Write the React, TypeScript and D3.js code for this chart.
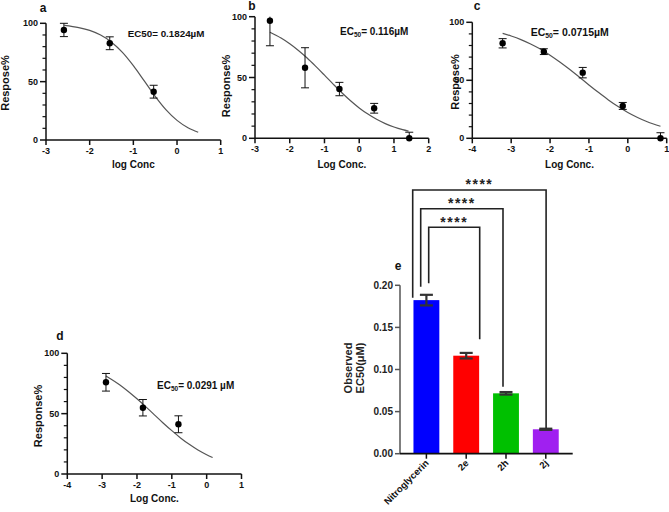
import React from 'react';
import * as d3 from 'd3';

// ---------- Panel a ----------
const aLogConc = [-2.59, -1.54, -0.535];
const aResponse = [94.3, 82.9, 41.4];
const aSem = [5.7, 5.5, 5.5];
const aFitX = [-2.58, -2.25, -2.0, -1.75, -1.5, -1.25, -1.0, -0.75, -0.5, -0.25, 0, 0.25, 0.485];
const aFitY = [98.2, 96.3, 93.9, 89.9, 83.8, 75.1, 63.7, 50.6, 37.4, 25.8, 16.8, 10.5, 6.6];
const aXTicks = [-3, -2, -1, 0, 1];

// ---------- Panel b ----------
const bLogConc = [-2.57, -1.56, -0.57, 0.43, 1.44];
const bResponse = [96.7, 58, 40.5, 24.7, 0];
const bSem = [20.6, 16.5, 5.5, 4, 5];
const bFitX = [-2.57, -2.25, -2.0, -1.75, -1.5, -1.25, -1.0, -0.75, -0.5, -0.25, 0, 0.25, 0.5, 0.75, 1.0, 1.25, 1.42];
const bFitY = [87.2, 82.4, 77.7, 72.2, 66.0, 59.1, 51.9, 44.6, 37.5, 30.9, 25.0, 19.9, 15.6, 12.1, 9.3, 7.1, 5.9];
const bXTicks = [-3, -2, -1, 0, 1, 2];

// ---------- Panel c ----------
const cLogConc = [-3.22, -2.16, -1.16, -0.13, 0.84];
const cResponse = [81.9, 74.7, 56.6, 27.9, 0];
const cSem = [4, 2.5, 4.5, 3, 4.8];
const cFitX = [-3.22, -3.0, -2.75, -2.5, -2.25, -2.0, -1.75, -1.5, -1.25, -1.0, -0.75, -0.5, -0.25, 0, 0.25, 0.5, 0.84];
const cFitY = [90.5, 88.2, 85.1, 81.3, 76.9, 71.7, 65.8, 59.5, 52.8, 46.0, 39.4, 33.1, 27.4, 22.3, 18.0, 14.3, 10.4];
const cXTicks = [-4, -3, -2, -1, 0, 1];

// ---------- Panel d ----------
const dLogConc = [-2.89, -1.83, -0.81];
const dResponse = [76, 54.9, 41.2];
const dSem = [7.3, 6.8, 7];
const dFitX = [-2.89, -2.75, -2.5, -2.25, -2.0, -1.75, -1.5, -1.25, -1.0, -0.75, -0.5, -0.25, 0, 0.17];
const dFitY = [81.2, 78.8, 74.0, 68.4, 62.3, 55.8, 49.0, 42.3, 35.9, 29.9, 24.6, 19.9, 16.0, 13.6];
const dXTicks = [-4, -3, -2, -1, 0, 1];

const responseTicks = [0, 50, 100];
const responseMinorTicks = [10, 20, 30, 40, 60, 70, 80, 90];

// ---------- Panel e ----------
const eCategories = ['Nitroglycerin', '2e', '2h', '2j'];
const eEC50 = [0.1824, 0.1164, 0.0717, 0.029];
const eSem = [0.0063, 0.0033, 0.0015, 0.0007];
const eColors = ['#0000ff', '#ff0000', '#00c000', '#a020f0'];
const eTicks = [0, 0.05, 0.1, 0.15, 0.2];
const eTickLabels = ['0.00', '0.05', '0.10', '0.15', '0.20'];
const eCompareTo = [1, 2, 3];
const eCompareLabels = ['****', '****', '****'];
const eBracketTop = [0.269, 0.291, 0.3132];
const eBracketLeftEnd = [0.2023, 0.1983, 0.1853];
const eBracketRightEnd = [0.136, 0.0796, 0.0302];

const FONT = 'Liberation Sans, Arial, sans-serif';

type PanelProps = {
  xDomain: [number, number];
  xRange: [number, number];
  yRange: [number, number];
  xTicks: number[];
  xs: number[];
  ys: number[];
  sem: number[];
  fitX: number[];
  fitY: number[];
  letter: string;
  letterPos: [number, number];
  yLabel: string;
  yLabelPos: [number, number];
  xLabel: string;
  xLabelY: number;
  ec50: React.ReactNode;
};

function DosePanel(p: PanelProps) {
  const x = d3.scaleLinear().domain(p.xDomain).range(p.xRange);
  const y = d3.scaleLinear().domain([0, 100]).range(p.yRange);
  const line = d3
    .line<number>()
    .x((_, i) => x(p.fitX[i]))
    .y((v) => y(v))
    .curve(d3.curveMonotoneX);
  const x0 = p.xRange[0];
  const yb = p.yRange[0];
  return (
    <g fontFamily={FONT} fontWeight="bold">
      <text x={p.letterPos[0]} y={p.letterPos[1]} fontSize={12} textAnchor="middle" fill="#111">
        {p.letter}
      </text>
      {/* y axis */}
      <line x1={x0} x2={x0} y1={y(0)} y2={y(100)} stroke="#111" strokeWidth={1.5} />
      {responseTicks.map((t) => (
        <g key={'yt' + t}>
          <line x1={x0 - 6} x2={x0} y1={y(t)} y2={y(t)} stroke="#111" strokeWidth={1.5} />
          <text x={x0 - 8} y={y(t) + 3} fontSize={9} textAnchor="end" fill="#111">
            {t}
          </text>
        </g>
      ))}
      {responseMinorTicks.map((t) => (
        <line key={'ym' + t} x1={x0 - 3.5} x2={x0} y1={y(t)} y2={y(t)} stroke="#111" strokeWidth={1.2} />
      ))}
      {/* x axis */}
      <line x1={x0} x2={p.xRange[1]} y1={yb} y2={yb} stroke="#111" strokeWidth={1.5} />
      {p.xTicks.map((t) => (
        <g key={'xt' + t}>
          <line x1={x(t)} x2={x(t)} y1={yb} y2={yb + 5} stroke="#111" strokeWidth={1.5} />
          <text x={x(t)} y={yb + 14} fontSize={9} textAnchor="middle" fill="#111">
            {t}
          </text>
        </g>
      ))}
      {/* labels */}
      <text
        transform={`translate(${p.yLabelPos[0]},${p.yLabelPos[1]}) rotate(-90)`}
        fontSize={11}
        textAnchor="middle"
        fill="#111"
      >
        {p.yLabel}
      </text>
      <text x={(p.xRange[0] + p.xRange[1]) / 2} y={p.xLabelY} fontSize={10} textAnchor="middle" fill="#111">
        {p.xLabel}
      </text>
      {/* fit curve */}
      <path d={line(p.fitY) || ''} fill="none" stroke="#555" strokeWidth={1.2} />
      {/* error bars */}
      {p.xs.map((xv, i) => {
        const hi = p.ys[i] + p.sem[i];
        const lo = p.ys[i] - p.sem[i];
        const hiC = Math.min(hi, 100);
        const loC = Math.max(lo, 0);
        const cx = x(xv);
        return (
          <g key={'e' + i} stroke="#111" strokeWidth={1}>
            <line x1={cx} x2={cx} y1={y(hiC)} y2={y(loC)} />
            {hi <= 100 && <line x1={cx - 4} x2={cx + 4} y1={y(hi)} y2={y(hi)} />}
            {lo >= 0 && <line x1={cx - 4} x2={cx + 4} y1={y(lo)} y2={y(lo)} />}
          </g>
        );
      })}
      {p.xs.map((xv, i) => (
        <circle key={'p' + i} cx={x(xv)} cy={y(p.ys[i])} r={3.2} fill="#000" />
      ))}
      {p.ec50}
    </g>
  );
}

function Ec50Label({ x, y, value, sub, size }: { x: number; y: number; value: string; sub: boolean; size: number }) {
  return (
    <text x={x} y={y} fontSize={size} fontFamily={FONT} fontWeight="bold" fill="#111">
      {sub ? (
        <>
          EC
          <tspan fontSize={size * 0.65} dy={2}>
            50
          </tspan>
          <tspan dy={-2}>{value}</tspan>
        </>
      ) : (
        <>EC50{value}</>
      )}
    </text>
  );
}

function BarPanel() {
  const yScale = d3.scaleLinear().domain([0, 0.2]).range([453.7, 285.3]);
  const xScale = d3.scaleBand<string>().domain(eCategories).range([406.5, 565.7]).paddingInner(0.35).paddingOuter(0.175);
  const bw = xScale.bandwidth();
  const cx = (c: string) => (xScale(c) as number) + bw / 2;
  const axisX = 400;
  const baseY = yScale(0);
  const leftOffsets = [2.3, -5.7, -13.7];
  const rightOffsets = [13.5, -3, 0.3];
  return (
    <g fontFamily={FONT} fontWeight="bold">
      <text x={398} y={270} fontSize={12} textAnchor="middle" fill="#111">
        e
      </text>
      {/* bars */}
      {eCategories.map((c, i) => (
        <rect key={c} x={xScale(c)} width={bw} y={yScale(eEC50[i])} height={baseY - yScale(eEC50[i])} fill={eColors[i]} />
      ))}
      {/* error bars */}
      {eCategories.map((c, i) => {
        const hi = yScale(eEC50[i] + eSem[i]);
        const lo = yScale(eEC50[i] - eSem[i]);
        const x = cx(c);
        return (
          <g key={'eb' + c} stroke="#333" strokeWidth={2.2}>
            <line x1={x} x2={x} y1={hi} y2={lo} />
            <line x1={x - 6.5} x2={x + 6.5} y1={hi} y2={hi} />
            <line x1={x - 6.5} x2={x + 6.5} y1={lo} y2={lo} />
          </g>
        );
      })}
      {/* y axis */}
      <line x1={axisX} x2={axisX} y1={yScale(0)} y2={yScale(0.2)} stroke="#555" strokeWidth={1.5} />
      {eTicks.map((t, i) => (
        <g key={'et' + i}>
          <line x1={axisX - 5} x2={axisX} y1={yScale(t)} y2={yScale(t)} stroke="#555" strokeWidth={1.5} />
          <text x={axisX - 7} y={yScale(t) + 3.5} fontSize={10} textAnchor="end" fill="#222">
            {eTickLabels[i]}
          </text>
        </g>
      ))}
      {/* x axis */}
      <line x1={axisX} x2={572.7} y1={baseY} y2={baseY} stroke="#111" strokeWidth={1.8} />
      {eCategories.map((c) => (
        <g key={'xl' + c}>
          <line x1={cx(c)} x2={cx(c)} y1={baseY} y2={baseY + 5} stroke="#111" strokeWidth={1.5} />
          <text
            transform={`translate(${cx(c) + 3},${baseY + 10}) rotate(-45)`}
            fontSize={9.5}
            textAnchor="end"
            fill="#111"
          >
            {c}
          </text>
        </g>
      ))}
      {/* y label */}
      <text transform={`translate(352,368) rotate(-90)`} fontSize={11} textAnchor="middle" fill="#222">
        Observed
      </text>
      <text transform={`translate(364,368) rotate(-90)`} fontSize={11} textAnchor="middle" fill="#222">
        EC50(μM)
      </text>
      {/* significance brackets */}
      {eCompareTo.map((to, i) => {
        const xl = cx(eCategories[0]) + leftOffsets[i];
        const xr = cx(eCategories[to]) + rightOffsets[i];
        const yt = yScale(eBracketTop[i]);
        return (
          <g key={'br' + i}>
            <path
              d={`M${xl},${yScale(eBracketLeftEnd[i])}V${yt}H${xr}V${yScale(eBracketRightEnd[i])}`}
              fill="none"
              stroke="#222"
              strokeWidth={1.6}
            />
            <text x={(xl + xr) / 2} y={yt - 0.5} fontSize={14} textAnchor="middle" letterSpacing={1.5} fill="#222">
              {eCompareLabels[i]}
            </text>
          </g>
        );
      })}
    </g>
  );
}

export default function App() {
  return (
    <svg
      width={669}
      height={512}
      style={{ position: 'absolute', left: 0, top: 0, background: '#fff' }}
    >
      <rect width={669} height={512} fill="#fff" />
      <DosePanel
        xDomain={[-3, 1]}
        xRange={[46, 220.7]}
        yRange={[140, 23.3]}
        xTicks={aXTicks}
        xs={aLogConc}
        ys={aResponse}
        sem={aSem}
        fitX={aFitX}
        fitY={aFitY}
        letter="a"
        letterPos={[43, 12]}
        yLabel="Respose%"
        yLabelPos={[9, 83]}
        xLabel="log Conc"
        xLabelY={168}
        ec50={<Ec50Label x={127.7} y={37} value="= 0.1824µM" sub={false} size={9.8} />}
      />
      <DosePanel
        xDomain={[-3, 2]}
        xRange={[255, 428.7]}
        yRange={[138.3, 16.7]}
        xTicks={bXTicks}
        xs={bLogConc}
        ys={bResponse}
        sem={bSem}
        fitX={bFitX}
        fitY={bFitY}
        letter="b"
        letterPos={[252, 10]}
        yLabel="Response%"
        yLabelPos={[230, 86]}
        xLabel="Log Conc."
        xLabelY={168}
        ec50={<Ec50Label x={340} y={35} value="= 0.116µM" sub={true} size={10} />}
      />
      <DosePanel
        xDomain={[-4, 1]}
        xRange={[472.3, 666.7]}
        yRange={[138.3, 22.3]}
        xTicks={cXTicks}
        xs={cLogConc}
        ys={cResponse}
        sem={cSem}
        fitX={cFitX}
        fitY={cFitY}
        letter="c"
        letterPos={[477, 10]}
        yLabel="Respose%"
        yLabelPos={[459, 82]}
        xLabel="Log Conc."
        xLabelY={167.5}
        ec50={<Ec50Label x={530.7} y={36} value="= 0.0715µM" sub={true} size={10.5} />}
      />
      <DosePanel
        xDomain={[-4, 1]}
        xRange={[67.3, 241.5]}
        yRange={[474, 353.3]}
        xTicks={dXTicks}
        xs={dLogConc}
        ys={dResponse}
        sem={dSem}
        fitX={dFitX}
        fitY={dFitY}
        letter="d"
        letterPos={[60, 340]}
        yLabel="Response%"
        yLabelPos={[41.5, 416]}
        xLabel="Log Conc."
        xLabelY={502}
        ec50={<Ec50Label x={157} y={389} value="= 0.0291 µM" sub={true} size={10} />}
      />
      <BarPanel />
    </svg>
  );
}
